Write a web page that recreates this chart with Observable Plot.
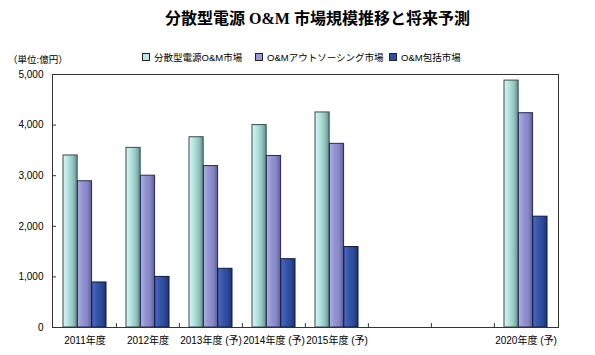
<!DOCTYPE html>
<html><head><meta charset="utf-8">
<script src="https://cdn.jsdelivr.net/npm/d3@7"></script>
<script src="https://cdn.jsdelivr.net/npm/@observablehq/plot@0.6"></script>
<style>
body{margin:0;width:595px;height:355px;position:relative;background:#fff;overflow:hidden;font-family:"Liberation Sans","Noto Sans CJK JP",sans-serif;color:#000}
#title{position:absolute;z-index:2;top:9px;left:40px;width:555px;text-align:center;font-family:"Liberation Serif","Noto Sans CJK JP",serif;font-weight:bold;font-size:16px;line-height:20px}
.leg{position:absolute;z-index:2;top:52px;font-size:9.5px;line-height:12px;white-space:nowrap;font-family:"Liberation Sans","Noto Sans CJK JP",sans-serif}
.sw{display:inline-block;width:6px;height:6px;border:1px solid #222;margin-right:4px;vertical-align:0px}
#unit{position:absolute;z-index:2;top:54px;left:8px;font-size:9.5px;line-height:12px}
#chart{position:absolute;z-index:1;top:45px;left:0}
</style></head>
<body>
<div id="chart"></div>
<div id="title">分散型電源 O&amp;M 市場規模推移と将来予測</div>
<div id="legend"></div>
<div id="unit">（単位:億円）</div>
<script>
const categories = ["2011年度","2012年度","2013年度 (予)","2014年度 (予)","2015年度 (予)","2020年度 (予)"];
const gapSlots = ["gap1","gap2"];
const seriesNames = ["分散型電源O&M市場","O&Mアウトソーシング市場","O&M包括市場"];
const dgOM = [3400, 3550, 3760, 4000, 4250, 4880];
const outsourcing = [2890, 3000, 3190, 3390, 3630, 4235];
const comprehensive = [890, 1000, 1160, 1350, 1590, 2190];
const yTicks = [0, 1000, 2000, 3000, 4000, 5000];

const seriesValues = [dgOM, outsourcing, comprehensive];
const gradIds = ["gTeal","gPurple","gNavy"];
const swatchColors = ["#bfe9e6","#9a9ad6","#2f4fa8"];
const strokes = ["#3a4a4a","#2a2a50","#101a40"];

const W = 595, H = 310, mL = 52, mR = 37, mT = 29, mB = 28;
const xDomain = [...categories.slice(0,5), ...gapSlots, categories[5]];
const step = (W - mL - mR) / xDomain.length;
const barW = step * 0.228;

// legend
const legPos = [142, 255, 389];
const leg = document.getElementById("legend");
seriesNames.forEach((n,i)=>{
  const d = document.createElement("div");
  d.className = "leg";
  d.style.left = legPos[i] + "px";
  d.innerHTML = `<span class="sw" style="background:${swatchColors[i]}"></span>`;
  d.appendChild(document.createTextNode(n));
  leg.appendChild(d);
});

const defs = () => {
  const g = d3.create("svg:defs");
  const specs = [
    ["gTeal", [["0%","#d6f6f4"],["35%","#b4e4e0"],["70%","#94c4c0"],["100%","#5e8e8a"]]],
    ["gPurple", [["0%","#b0b0e4"],["35%","#9494d2"],["70%","#8686c4"],["100%","#5c5c9c"]]],
    ["gNavy", [["0%","#4a6cc4"],["35%","#3656aa"],["70%","#2c4898"],["100%","#1c3274"]]]
  ];
  for (const [id, stops] of specs) {
    const lg = g.append("linearGradient").attr("id", id).attr("x1","0").attr("x2","1").attr("y1","0").attr("y2","0");
    for (const [o,c] of stops) lg.append("stop").attr("offset", o).attr("stop-color", c);
  }
  return g.node();
};

const barMarks = seriesValues.map((vals, s) =>
  Plot.barY(categories.map((c,i)=>({cat:c, v:vals[i]})), {
    x: "cat", y: "v",
    insetLeft: (step - barW)/2, insetRight: (step - barW)/2,
    dx: (s - 1) * barW,
    fill: `url(#${gradIds[s]})`, stroke: strokes[s], strokeWidth: 1
  })
);

const boundaries = xDomain.slice(1);

const chart = Plot.plot({
  width: W, height: H,
  marginLeft: mL, marginRight: mR, marginTop: mT, marginBottom: mB,
  style: {fontFamily: '"Liberation Sans","Noto Sans CJK JP",sans-serif', fontSize: "10px", color: "#000", background: "transparent"},
  x: {domain: xDomain, padding: 0, label: null},
  y: {domain: [0, 5000], label: null},
  marks: [
    defs,
    ...barMarks,
    Plot.vector(boundaries, {x: d=>d, y: 0, length: 4, rotate: 0, anchor: "start", dx: -step/2, stroke: "#333", strokeWidth: 1, shape: {draw(ctx,l){ctx.moveTo(0,0);ctx.lineTo(0,-l);}}}),
    Plot.axisY({ticks: yTicks, tickFormat: d3.format(","), tickSize: -4, tickPadding: 13, stroke: "#333", fontSize: 10}),
    Plot.axisX({tickSize: 0, tickPadding: 9, tickFormat: d => gapSlots.includes(d) ? "" : d, fontSize: 10}),
    Plot.frame({stroke: "#333", strokeWidth: 1})
  ]
});
document.getElementById("chart").appendChild(chart);
</script>
</body></html>
